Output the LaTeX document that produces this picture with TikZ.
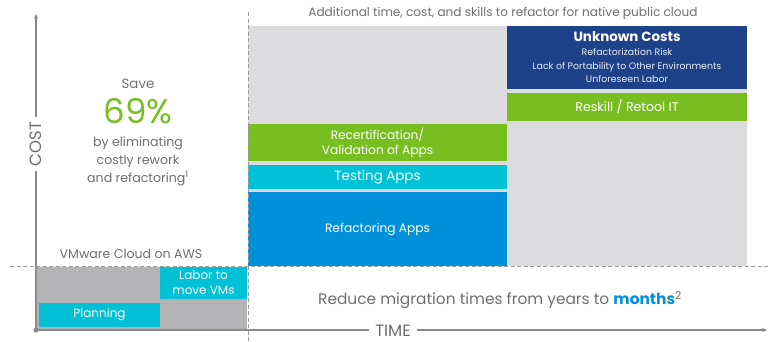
\documentclass[tikz,border=0pt]{standalone}
\usepackage{fontspec}
\setmainfont{Poppins}
\usetikzlibrary{arrows.meta}
\definecolor{txtgray}{HTML}{6E6E70}
\definecolor{axgray}{HTML}{8A8A8C}
\definecolor{lgray}{HTML}{DCDCDE}
\definecolor{mgray}{HTML}{B4B4B6}
\definecolor{dblue}{HTML}{1D428A}
\definecolor{vgreen}{HTML}{78BE20}
\definecolor{vcyan}{HTML}{00C1D5}
\definecolor{vblue}{HTML}{0091DA}
\tikzset{
  blk/.style={inner sep=0pt, outer sep=0pt, draw=none, text=white, align=center},
  lbl/.style={inner sep=0pt, text=txtgray, align=center},
  axisline/.style={draw=axgray, line width=1.1pt},
  guide/.style={draw=axgray!85, line width=0.9pt, dash pattern=on 4pt off 2.5pt},
}
\begin{document}
\begin{tikzpicture}[x=1pt,y=-1pt]
\useasboundingbox (0,0) rectangle (768,341);
% right side blocks
\node[blk, fill=lgray, minimum width=499pt, minimum height=240pt] (bg) at (497.5,146) {};
\node[blk, fill=dblue, minimum width=240pt, minimum height=63pt] (unk) at (627,57.5) {};
\node[text=white, inner sep=0pt, font=\fontsize{13.4}{15}\selectfont\bfseries] (unkt) at (627,37) {Unknown Costs};
\node[text=white!90!dblue, inner sep=0pt, align=center, font=\fontsize{9.4}{13.5}\selectfont] (unks) at (627,65.5) {Refactorization Risk\\Lack of Portability to Other Environments\\Unforeseen Labor};
\node[blk, fill=vgreen, minimum width=240pt, minimum height=28pt, font=\fontsize{12.6}{14}\selectfont] (reskill) at (627,107) {Reskill / Retool IT};
\node[blk, fill=vgreen, minimum width=259pt, minimum height=37pt, font=\fontsize{12.2}{15}\selectfont] (recert) at (377.5,142.5) {Recertification/\\Validation of Apps};
\node[blk, fill=vcyan, minimum width=259pt, minimum height=24pt, font=\fontsize{13.4}{14}\selectfont] (test) at (377.5,177) {Testing Apps};
\node[blk, fill=vblue, minimum width=259pt, minimum height=74pt, font=\fontsize{12.2}{14}\selectfont] (refac) at (377.5,229) {Refactoring Apps};
% left bottom blocks
\node[blk, fill=mgray, minimum width=211pt, minimum height=63pt] (vmc) at (141.5,298.5) {};
\node[blk, fill=vcyan, minimum width=87pt, minimum height=32pt, font=\fontsize{12}{15}\selectfont] (labor) at (203.5,283) {Labor to\\move VMs};
\node[blk, fill=vcyan, minimum width=121pt, minimum height=24pt, font=\fontsize{12}{14}\selectfont] (plan) at (99.5,315) {Planning};
% texts
\node[lbl, font=\fontsize{12.1}{14}\selectfont] (top) at (503,13) {Additional time, cost, and skills to refactor for native public cloud};
\node[lbl, font=\fontsize{13.4}{15}\selectfont] (save) at (138,84) {Save};
\node[inner sep=0pt, text=vgreen, font=\fontsize{34}{36}\selectfont] (pct) at (138,111.5) {69\%};
\node[lbl, font=\fontsize{12.6}{18}\selectfont] (elim) at (138,161) {by eliminating\\costly rework\\and refactoring\textsuperscript{1}};
\node[lbl, font=\fontsize{12.6}{14}\selectfont] (vmctxt) at (131,254) {VMware Cloud on AWS};
\node[lbl, font=\fontsize{15.4}{17}\selectfont] (reduce) at (500,300) {Reduce migration times from years to {\bfseries\color{vblue}months}\textsuperscript{2}};
% axes
\coordinate (origin) at (36,330);
\coordinate (ytop) at (36,14);
\coordinate (xend) at (767,330);
\draw[axisline, -{Stealth[length=5pt,width=4pt]}] (origin) -- (ytop);
\draw[axisline, -{Stealth[length=5pt,width=4pt]}] (origin) -- (xend);
\fill[axgray] (origin) circle (2.6pt);
\node[lbl, fill=white, inner xsep=5pt, inner ysep=2pt, rotate=90, font=\fontsize{16.4}{18}\selectfont] (cost) at (36,144) {COST};
\node[lbl, fill=white, inner xsep=6pt, inner ysep=2pt, font=\fontsize{16.4}{18}\selectfont] (time) at (393,331) {TIME};
% guides
\coordinate (vtop) at (248,12);
\coordinate (vbot) at (248,341);
\coordinate (hl) at (10,266.5);
\coordinate (hr) at (768,266.5);
\draw[guide] (vtop) -- (vbot);
\draw[guide] (hl) -- (hr);
\end{tikzpicture}
\end{document}
